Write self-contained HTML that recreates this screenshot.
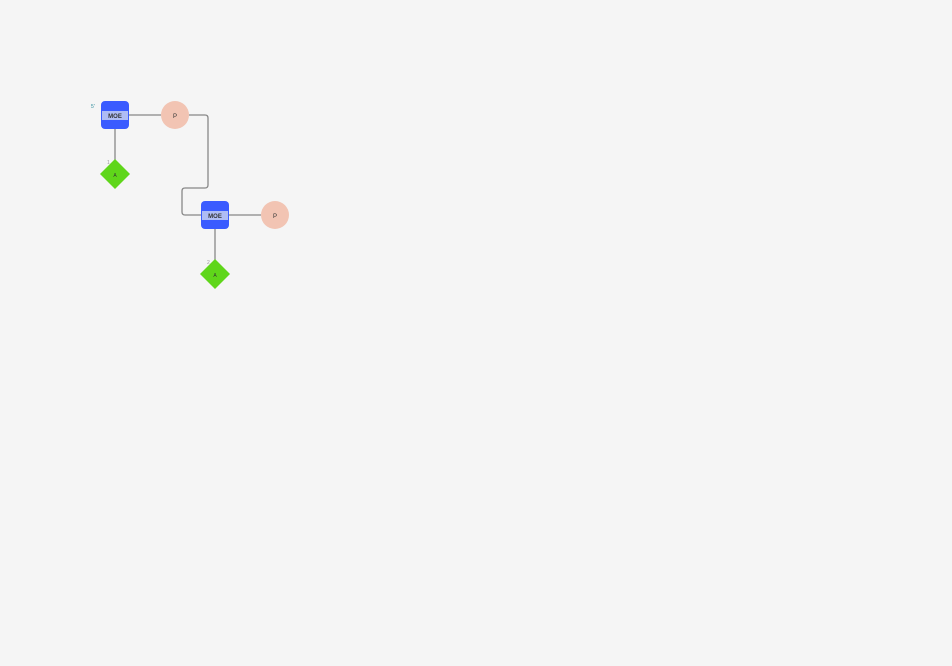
<!DOCTYPE html>
<html><head><style>body{margin:0;background:#f5f5f5}svg{display:block}text{font-family:"Liberation Sans",sans-serif}</style></head><body>
<svg width="952" height="666" viewBox="0 0 952 666">
<rect width="952" height="666" fill="#f5f5f5"/>
<g stroke="#888" stroke-width="1.3" fill="none">
<line x1="129" y1="115" x2="161" y2="115"/>
<line x1="115" y1="129" x2="115" y2="160"/>
<path d="M189 115 H205 Q208 115 208 118 V185 Q208 188 205 188 H185 Q182 188 182 191 V212 Q182 215 185 215 H201"/>
<line x1="229" y1="215" x2="261" y2="215"/>
<line x1="215" y1="229" x2="215" y2="260"/>
</g>
<g>
<rect x="101" y="101" width="28" height="28" rx="4" fill="#3a5bff"/>
<rect x="102" y="111" width="26" height="9" fill="#aebcf5"/>
<text x="115" y="118" font-size="6" text-anchor="middle" font-weight="bold" fill="#333">MOE</text>
<rect x="201" y="201" width="28" height="28" rx="4" fill="#3a5bff"/>
<rect x="202" y="211" width="26" height="9" fill="#aebcf5"/>
<text x="215" y="218" font-size="6" text-anchor="middle" font-weight="bold" fill="#333">MOE</text>
<circle cx="175" cy="115" r="14" fill="#f2c4b3"/>
<text x="175" y="118" font-size="6" text-anchor="middle" fill="#333">P</text>
<circle cx="275" cy="215" r="14" fill="#f2c4b3"/>
<text x="275" y="218" font-size="6" text-anchor="middle" fill="#333">P</text>
<polygon points="115,159 130,174 115,189 100,174" fill="#5fd61a"/>
<text x="115" y="177" font-size="5" text-anchor="middle" fill="#333">A</text>
<polygon points="215,259 230,274 215,289 200,274" fill="#5fd61a"/>
<text x="215" y="277" font-size="5" text-anchor="middle" fill="#333">A</text>
<text x="91" y="108" font-size="5" fill="#2a8a9a">5'</text>
<text x="107" y="164" font-size="5" fill="#999">1</text>
<text x="207" y="264" font-size="5" fill="#999">2</text>
</g>
</svg>
</body></html>
